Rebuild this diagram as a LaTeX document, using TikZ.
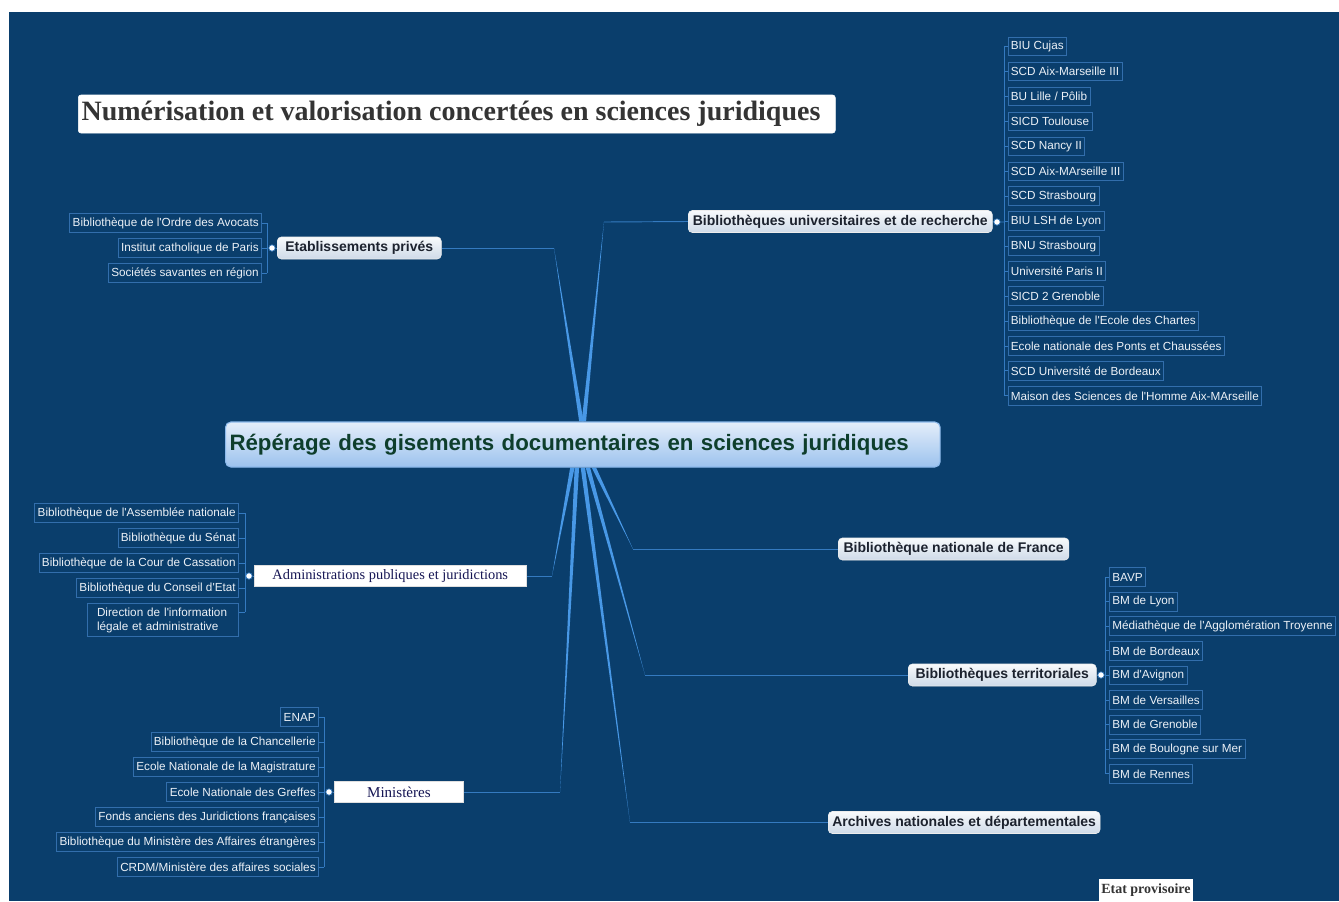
\documentclass[tikz,border=0pt]{standalone}
\usepackage{fontspec}
\setmainfont{Liberation Serif}
\newfontfamily\arialf{Liberation Sans}
\newfontfamily\tnrf{Liberation Serif}
\usetikzlibrary{calc,backgrounds}
\definecolor{bgblue}{RGB}{10,62,108}
\definecolor{childborder}{RGB}{50,110,172}
\definecolor{childtext}{RGB}{236,241,247}
\definecolor{fanc}{RGB}{72,152,230}
\definecolor{thinl}{RGB}{52,122,192}
\definecolor{lvltext}{RGB}{28,34,46}
\definecolor{lvltop}{RGB}{248,250,252}
\definecolor{lvlbot}{RGB}{206,218,232}
\definecolor{ctrtop}{RGB}{228,238,250}
\definecolor{ctrbot}{RGB}{156,194,238}
\definecolor{ctrborder}{RGB}{140,185,235}
\definecolor{ctrtext}{RGB}{14,62,44}
\definecolor{titletext}{RGB}{52,52,52}
\definecolor{admtext}{RGB}{22,22,84}
\newcommand{\mmtaper}[3]{\fill[fanc] ($(#1)+(#2-2.2,0)$) -- ($(#1)+(#2+2.2,0)$) -- (#3) -- cycle;}
\begin{document}
\begin{tikzpicture}[x=0.75pt,y=-0.75pt,
  child/.style={draw=childborder, line width=0.6pt, fill=bgblue, text=childtext,
    font=\arialf\fontsize{8.8}{10.4}\selectfont, inner xsep=2.2pt, inner ysep=0pt, minimum height=14pt},
  lvl/.style={draw=white!85!gray, top color=lvltop, bottom color=lvlbot, rounded corners=3pt,
    text=lvltext, font=\arialf\bfseries\fontsize{10.5}{12}\selectfont, minimum height=16.5pt, inner xsep=3pt, inner ysep=0pt},
  serifbox/.style={fill=white, draw=gray!25, text=admtext, font=\tnrf\fontsize{10.8}{12}\selectfont,
    minimum height=16pt, inner ysep=0pt},
  ctrnode/.style={rounded corners=4pt, top color=ctrtop, bottom color=ctrbot, draw=ctrborder, line width=0.8pt,
    text=ctrtext, font=\arialf\bfseries\fontsize{16.7}{20}\selectfont, text width=530pt, align=left,
    inner xsep=3pt, minimum height=33.75pt},
  titlebox/.style={fill=white, draw=white, rounded corners=2pt, text=titletext,
    font=\tnrf\bfseries\fontsize{21}{24}\selectfont, inner xsep=2.5pt, minimum height=28.5pt},
  etat/.style={fill=white, draw=white, text=titletext, font=\tnrf\bfseries\fontsize{10.5}{12}\selectfont,
    inner xsep=1.5pt, minimum height=16.5pt, inner ysep=0pt},
  dot/.style={circle, fill=white, draw=thinl, line width=0.5pt, inner sep=0pt, minimum size=4.8pt},
  thinline/.style={draw=thinl, line width=0.7pt},
  bus/.style={draw=thinl, line width=0.6pt}
]
\useasboundingbox (0,0) rectangle (1339,901);

% title
\node[titlebox, anchor=west] (title) at (78,114) {\makebox[562.75pt][l]{Numérisation et valorisation concertées en sciences juridiques}};

% central
\node[ctrnode, anchor=west] (ctr) at (225,444.5) {Répérage des gisements documentaires en sciences juridiques};

% level-1 nodes
\node[lvl, anchor=west, minimum width=123pt] (ep) at (277,248) {Etablissements privés};
\node[lvl, anchor=west, minimum width=228pt] (bu) at (688,221.5) {Bibliothèques universitaires et de recherche};
\node[lvl, anchor=west, minimum width=173pt] (bnf) at (838,549) {Bibliothèque nationale de France};
\node[lvl, anchor=west, minimum width=141pt] (terr) at (908,675) {Bibliothèques territoriales};
\node[lvl, anchor=west, minimum width=203pt] (arch) at (828,822.5) {Archives nationales et départementales};
\node[serifbox, anchor=west, minimum width=204pt] (adm) at (254,576) {Administrations publiques et juridictions};
\node[serifbox, anchor=west, minimum width=97pt, font=\tnrf\fontsize{11.3}{13}\selectfont] (min) at (334,792) {Ministères};

\node[etat, anchor=west] (etatp) at (1099,890) {Etat provisoire};

% dots
\node[dot] (epdot) at (272,248) {};
\node[dot] (budot) at (997,222) {};
\node[dot] (admdot) at (249,576) {};
\node[dot] (mindot) at (329,792) {};
\node[dot] (terrdot) at (1101,675) {};

% children BU
\foreach \t [count=\i] in {BIU Cujas, SCD Aix-Marseille III, BU Lille / Pôlib, SICD Toulouse, SCD Nancy II,
  SCD Aix-MArseille III, SCD Strasbourg, BIU LSH de Lyon, BNU Strasbourg, Université Paris II,
  SICD 2 Grenoble, Bibliothèque de l'Ecole des Chartes, Ecole nationale des Ponts et Chaussées,
  SCD Université de Bordeaux, Maison des Sciences de l'Homme Aix-MArseille}
  \node[child, anchor=west] (bu\i) at (1007.5,{46.5+24.95*(\i-1)}) {\t};

% children territoriales
\foreach \t [count=\i] in {BAVP, BM de Lyon, Médiathèque de l'Agglomération Troyenne, BM de Bordeaux,
  BM d'Avignon, BM de Versailles, BM de Grenoble, BM de Boulogne sur Mer, BM de Rennes}
  \node[child, anchor=west] (te\i) at (1109,{577+24.6*(\i-1)}) {\t};

% children etablissements prives
\foreach \t [count=\i] in {Bibliothèque de l'Ordre des Avocats, Institut catholique de Paris, Sociétés savantes en région}
  \node[child, anchor=east] (ep\i) at (262,{223+25*(\i-1)}) {\t};

% children administrations
\foreach \t [count=\i] in {Bibliothèque de l'Assemblée nationale, Bibliothèque du Sénat,
  Bibliothèque de la Cour de Cassation, Bibliothèque du Conseil d'Etat}
  \node[child, anchor=east] (ad\i) at (239,{513+25*(\i-1)}) {\t};
\node[child, anchor=north east, text width=109pt, align=left, inner ysep=1.5pt, minimum height=25pt] (ad5) at (239,603)
  {\hspace*{5pt}Direction de l'information\\\hspace*{5pt}légale et administrative};

% children ministeres
\foreach \t [count=\i] in {ENAP, Bibliothèque de la Chancellerie, Ecole Nationale de la Magistrature,
  Ecole Nationale des Greffes, Fonds anciens des Juridictions françaises,
  Bibliothèque du Ministère des Affaires étrangères, CRDM/Ministère des affaires sociales}
  \node[child, anchor=east] (mi\i) at (319,{717+25*(\i-1)}) {\t};

% coordinates
\coordinate (kep) at (554,248);
\coordinate (kbu) at (604,222);
\coordinate (kadm) at (552,576);
\coordinate (kmin) at (560,792);
\coordinate (kbnf) at (633,549);
\coordinate (kterr) at (645,675);
\coordinate (karch) at (630,822.5);
\coordinate (epbus) at (267,248);
\coordinate (bubus) at (1004,222);
\coordinate (tebus) at (1105,675);
\coordinate (adbus) at (245,576);
\coordinate (mibus) at (324,792);
\coordinate (ad5t) at ($(ad5.north east)+(0,9)$);

\begin{pgfonlayer}{background}
  \fill[white] (0,0) rectangle (1339,901);
  \fill[bgblue] (9,12) rectangle (1339,901);
  % fan from central node
  \mmtaper{ctr.north}{-1.5}{kep}
  \mmtaper{ctr.north}{1}{kbu}
  \mmtaper{ctr.south}{-10.5}{kadm}
  \mmtaper{ctr.south}{-6}{kmin}
  \mmtaper{ctr.south}{0}{karch}
  \mmtaper{ctr.south}{5}{kterr}
  \mmtaper{ctr.south}{11}{kbnf}
  \draw[thinline] (kep) -- (ep.east);
  \draw[thinline] (kbu) -- (bu.west);
  \draw[thinline] (kadm) -- (adm.east);
  \draw[thinline] (kmin) -- (min.east);
  \draw[thinline] (kbnf) -- (bnf.west);
  \draw[thinline] (kterr) -- (terr.west);
  \draw[thinline] (karch) -- (arch.west);
  % brackets
  \draw[bus] (ep.west) -- (epdot) -- (epbus);
  \draw[bus] (ep1.east -| epbus) -- (ep3.east -| epbus);
  \foreach \i in {1,2,3} \draw[bus] (ep\i.east) -- (ep\i.east -| epbus);
  \draw[bus] (bu.east) -- (budot) -- (bubus);
  \draw[bus] (bu1.west -| bubus) -- (bu15.west -| bubus);
  \foreach \i in {1,...,15} \draw[bus] (bu\i.west) -- (bu\i.west -| bubus);
  \draw[bus] (terr.east) -- (terrdot) -- (tebus);
  \draw[bus] (te1.west -| tebus) -- (te9.west -| tebus);
  \foreach \i in {1,...,9} \draw[bus] (te\i.west) -- (te\i.west -| tebus);
  \draw[bus] (adm.west) -- (admdot) -- (adbus);
  \draw[bus] (ad1.east -| adbus) -- (ad5t -| adbus);
  \foreach \i in {1,...,4} \draw[bus] (ad\i.east) -- (ad\i.east -| adbus);
  \draw[bus] (ad5t) -- (ad5t -| adbus);
  \draw[bus] (min.west) -- (mindot) -- (mibus);
  \draw[bus] (mi1.east -| mibus) -- (mi7.east -| mibus);
  \foreach \i in {1,...,7} \draw[bus] (mi\i.east) -- (mi\i.east -| mibus);
\end{pgfonlayer}
\end{tikzpicture}
\end{document}
